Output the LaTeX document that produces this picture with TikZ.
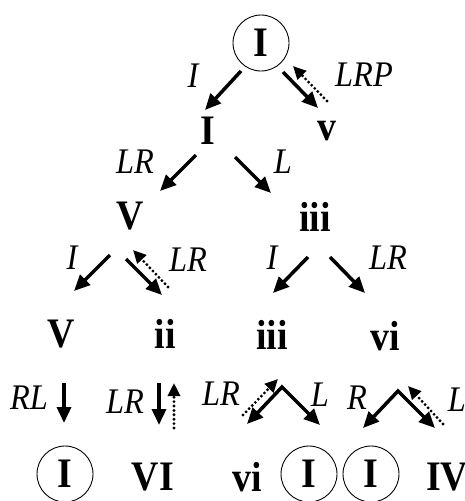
\documentclass[tikz,border=0pt]{standalone}
\usepackage{fontspec}
\setmainfont{Liberation Serif}
\newfontfamily\tallserif{Liberation Serif}[FakeStretch=0.9]
\usetikzlibrary{arrows.meta}
\tikzset{
  num/.style={font=\tallserif\fontsize{42}{42}\selectfont\bfseries, inner sep=0pt},
  lab/.style={font=\tallserif\fontsize{36}{36}\selectfont\itshape, inner sep=0pt},
  ring/.style={num, draw, circle, line width=0.9pt, minimum size=56pt},
  move/.style={line width=3.5pt, -{Triangle[length=16pt,width=14pt]}},
  twoway/.style={line width=3.5pt, line join=miter,
    {Triangle[length=16pt,width=14pt]}-{Triangle[length=16pt,width=14pt]}},
  back/.style={line width=3.2pt, dash pattern=on 0pt off 4.4pt, line cap=round,
    -{Triangle[length=13pt,width=12pt]}},
}
\begin{document}
\begin{tikzpicture}[x=1pt,y=-1pt]
\clip (0,0) rectangle (464,501);

% level 0
\node[ring] (r0) at (261,43) {I};
% level 1
\node[num] (n1a) at (208,131) {I};
\node[num] (n1b) at (327,131) {v};
% level 2
\node[num] (n2a) at (130,216) {V};
\node[num] (n2b) at (315,217) {iii};
% level 3
\node[num] (n3a) at (61,334) {V};
\node[num] (n3b) at (165,334) {ii};
\node[num] (n3c) at (272,335) {iii};
\node[num] (n3d) at (385,336) {vi};
% level 4
\node[ring] (r4a) at (65,474) {I};
\node[num] (n4b) at (153,477) {VI};
\node[num] (n4c) at (247,477) {vi};
\node[ring] (r4d) at (309,474) {I};
\node[ring] (r4e) at (371,474) {I};
\node[num] (n4f) at (447,477) {IV};

% arrow end points
\coordinate (a1t) at (241,71);  \coordinate (a1h) at (205,110);
\coordinate (a2t) at (283,72);  \coordinate (a2h) at (318,108);
\coordinate (b2t) at (327,101); \coordinate (b2h) at (293,66);
\coordinate (a3t) at (196,155); \coordinate (a3h) at (160,191);
\coordinate (a4t) at (235,157); \coordinate (a4h) at (271,193);
\coordinate (a5t) at (110,255); \coordinate (a5h) at (74,291);
\coordinate (a6t) at (126,259); \coordinate (a6h) at (162,295);
\coordinate (b6t) at (168,287); \coordinate (b6h) at (133,250);
\coordinate (a7t) at (308,257); \coordinate (a7h) at (273,293);
\coordinate (a8t) at (330,257); \coordinate (a8h) at (365,293);
\coordinate (a9t) at (64,383);  \coordinate (a9h) at (64,423);
\coordinate (a10t) at (159,383); \coordinate (a10h) at (159,425);
\coordinate (b10t) at (174,428); \coordinate (b10h) at (174,383);
\coordinate (z1l) at (247,424); \coordinate (z1a) at (282,387); \coordinate (z1r) at (320,425);
\coordinate (b11t) at (243,415); \coordinate (b11h) at (278,379);
\coordinate (z2l) at (363,428); \coordinate (z2a) at (398,391); \coordinate (z2r) at (435,428);
\coordinate (b12t) at (443,424); \coordinate (b12h) at (408,386);

% moves
\draw[move] (a1t) -- (a1h);
\draw[move] (a2t) -- (a2h);
\draw[back] (b2t) -- (b2h);
\draw[move] (a3t) -- (a3h);
\draw[move] (a4t) -- (a4h);
\draw[move] (a5t) -- (a5h);
\draw[move] (a6t) -- (a6h);
\draw[back] (b6t) -- (b6h);
\draw[move] (a7t) -- (a7h);
\draw[move] (a8t) -- (a8h);
\draw[move] (a9t) -- (a9h);
\draw[move] (a10t) -- (a10h);
\draw[back] (b10t) -- (b10h);
\draw[twoway] (z1l) -- (z1a) -- (z1r);
\draw[back] (b11t) -- (b11h);
\draw[twoway] (z2l) -- (z2a) -- (z2r);
\draw[back] (b12t) -- (b12h);

% labels
\node[lab] (l1) at (193,76) {I};
\node[lab] (l2) at (364,75) {LRP};
\node[lab] (l3) at (135,162) {LR};
\node[lab] (l4) at (283,162) {L};
\node[lab] (l5) at (72,258) {I};
\node[lab] (l6) at (188,260) {LR};
\node[lab] (l7) at (272,258) {I};
\node[lab] (l8) at (388,258) {LR};
\node[lab] (l9) at (29,398) {RL};
\node[lab] (l10) at (125,402) {LR};
\node[lab] (l11) at (221,394) {LR};
\node[lab] (l12) at (320,395) {L};
\node[lab] (l13) at (357,398) {R};
\node[lab] (l14) at (457,400) {L};
\end{tikzpicture}
\end{document}
